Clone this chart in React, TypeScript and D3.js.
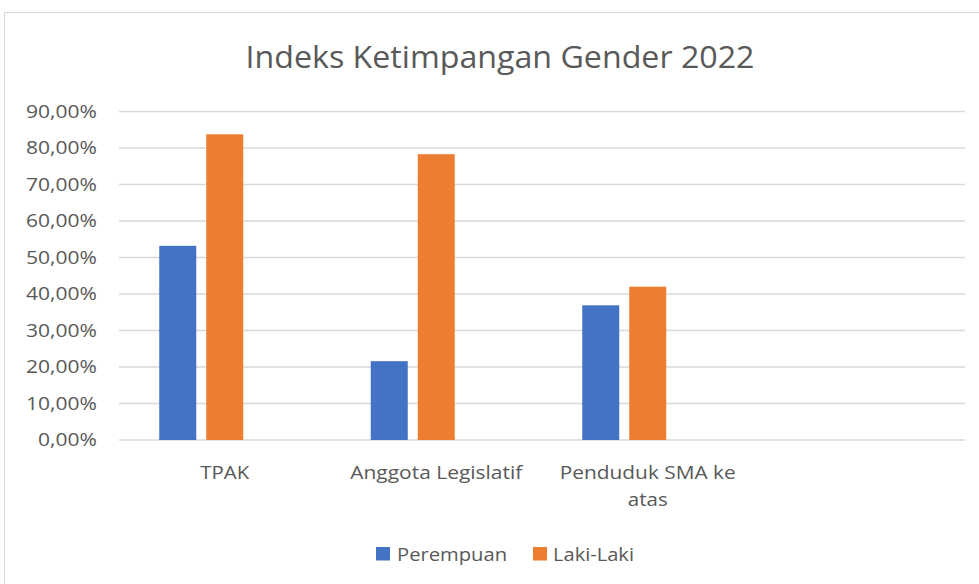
import React from "react";
import * as d3 from "d3";

const categories = ["TPAK", "Anggota Legislatif", "Penduduk SMA ke atas", ""];
const seriesNames = ["Perempuan", "Laki-Laki", ""];
const perempuan = [0.532, 0.216, 0.369, null];
const lakiLaki = [0.8375, 0.783, 0.42, null];
const kosong = [null, null, null, null];
const yTicks = [0, 0.1, 0.2, 0.3, 0.4, 0.5, 0.6, 0.7, 0.8, 0.9];
const colors = ["#4472C4", "#ED7D31", "#A5A5A5"];
const title = "Indeks Ketimpangan Gender 2022";

const W = 979;
const H = 584;
const FONT = "'Open Sans', sans-serif";
const TXT = "#595959";

// rendered widths of label lines (px), to emulate the narrower Calibri face
const lineWidths: Record<string, number> = {
  TPAK: 49,
  "Anggota Legislatif": 172,
  "Penduduk SMA ke": 176,
  atas: 40,
};

export default function App() {
  const left = 119;
  const right = 965;
  const top = 111.5;
  const bottom = 440;

  const x0 = d3.scaleBand<string>().domain(categories.map((c, i) => String(i))).range([left, right]).paddingInner(0).paddingOuter(0);
  const bw = x0.bandwidth();
  const barW = 37;
  const gap = 10;
  const groupW = barW * 3 + gap * 2;
  const x1 = d3.scaleBand<string>().domain(["0", "1", "2"]).range([0, groupW]).paddingInner(gap / (barW + gap)).paddingOuter(0);
  const y = d3.scaleLinear().domain([0, 0.9]).range([bottom, top]);
  const fmt = (v: number) => (v * 100).toFixed(2).replace(".", ",") + "%";

  const series = [perempuan, lakiLaki, kosong];

  const wrapLabels: Record<string, string[]> = {
    "Penduduk SMA ke atas": ["Penduduk SMA ke", "atas"],
  };

  return (
    <div style={{ position: "absolute", left: 0, top: 0 }}>
      <svg width={W} height={H} style={{ display: "block", background: "#fff" }}>
        <rect x={4.5} y={12.5} width={W + 10} height={H + 10} fill="#fff" stroke="#D9D9D9" strokeWidth={1} />
        <text x={500} y={68} textAnchor="middle" fontFamily={FONT} fontSize={31} fontWeight={400} fill={TXT} textLength={509} lengthAdjust="spacingAndGlyphs">
          {title}
        </text>
        {yTicks.map((t) => {
          const s = fmt(t);
          return (
            <g key={t}>
              <line x1={left} x2={right} y1={y(t)} y2={y(t)} stroke="#D9D9D9" strokeWidth={1.3} />
              <text
                x={97}
                y={y(t)}
                dy="0.36em"
                textAnchor="end"
                fontFamily={FONT}
                fontSize={18}
                fill={TXT}
                textLength={s.length === 6 ? 71 : 59}
                lengthAdjust="spacingAndGlyphs"
              >
                {s}
              </text>
            </g>
          );
        })}
        {categories.map((c, ci) => {
          const gx = (x0(String(ci)) as number) + (bw - groupW) / 2;
          return (
            <g key={ci}>
              {series.map((s, si) => {
                const v = s[ci];
                if (v == null) return null;
                return (
                  <rect
                    key={si}
                    x={gx + (x1(String(si)) as number)}
                    y={y(v)}
                    width={x1.bandwidth()}
                    height={bottom - y(v)}
                    fill={colors[si]}
                  />
                );
              })}
              {(wrapLabels[c] || [c]).map((line, li) => (
                <text
                  key={li}
                  x={(x0(String(ci)) as number) + bw / 2}
                  y={479 + li * 27}
                  textAnchor="middle"
                  fontFamily={FONT}
                  fontSize={18}
                  fill={TXT}
                  textLength={lineWidths[line]}
                  lengthAdjust="spacingAndGlyphs"
                >
                  {line}
                </text>
              ))}
            </g>
          );
        })}
        {[
          { name: seriesNames[0], sx: 376, tx: 397, tw: 110, color: colors[0] },
          { name: seriesNames[1], sx: 533, tx: 553, tw: 81, color: colors[1] },
        ].map((l) => (
          <g key={l.name}>
            <rect x={l.sx} y={547} width={14} height={13.5} fill={l.color} />
            <text x={l.tx} y={561} fontFamily={FONT} fontSize={18} fill={TXT} textLength={l.tw} lengthAdjust="spacingAndGlyphs">
              {l.name}
            </text>
          </g>
        ))}
      </svg>
    </div>
  );
}
